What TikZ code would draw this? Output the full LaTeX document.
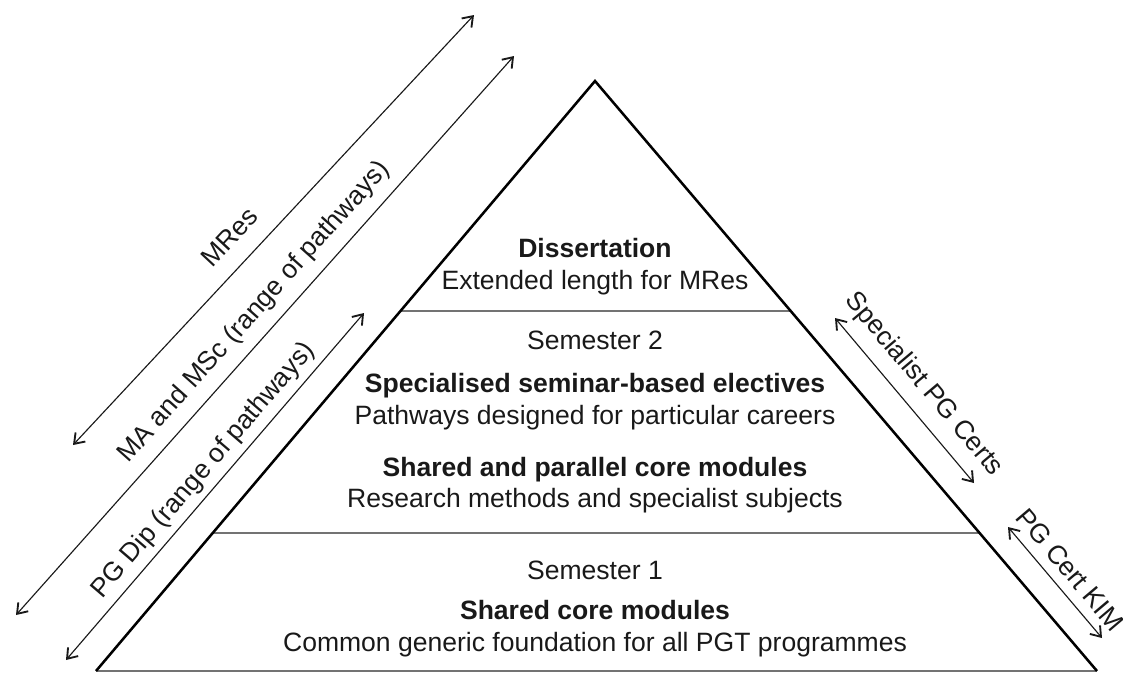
\documentclass[tikz,border=0pt]{standalone}
\usepackage{fontspec}
\setmainfont{Liberation Sans}
\usetikzlibrary{arrows.meta,calc}
\begin{document}
\begin{tikzpicture}[x=0.75pt,y=-0.75pt,
  side/.style={line width=1.9pt, draw=black, line join=miter},
  divider/.style={line width=1.6pt, draw=black!55},
  tip/.tip={Straight Barb[length=7pt,width=10pt,line width=1.4pt]},
  dbl/.style={line width=0.85pt, draw=black!90, tip-tip},
  body/.style={font=\fontsize{19.9pt}{24pt}\selectfont, inner sep=0pt, text=black!90},
  title/.style={body, font=\fontsize{19.9pt}{24pt}\selectfont\bfseries},
  lbl/.style={body, sloped}
]
\useasboundingbox (0,0) rectangle (1123,672);

% pyramid
\coordinate (A) at (595,81);
\coordinate (B) at (96,671);
\coordinate (C) at (1097,671);
\coordinate (d1l) at ($(A)!0.3898!(B)$);
\coordinate (d1r) at ($(A)!0.3898!(C)$);
\coordinate (d2l) at ($(A)!0.7661!(B)$);
\coordinate (d2r) at ($(A)!0.7661!(C)$);
\draw[divider] (d1l) -- (d1r);
\draw[divider] (d2l) -- (d2r);
\draw[divider] (B) -- (C);
\draw[side] (B) -- (A) -- (C);

% texts inside
\node[title, anchor=base] (diss) at (595,257) {Dissertation};
\node[body, anchor=base] (ext) at (595,289) {Extended length for MRes};
\node[body, anchor=base] (sem2) at (595,349) {Semester 2};
\node[title, anchor=base] (spec) at (595,392) {Specialised seminar-based electives};
\node[body, anchor=base] (path) at (595,424) {Pathways designed for particular careers};
\node[title, anchor=base] (shp) at (595,476) {Shared and parallel core modules};
\node[body, anchor=base] (res) at (595,507) {Research methods and specialist subjects};
\node[body, anchor=base] (sem1) at (595,579) {Semester 1};
\node[title, anchor=base] (shc) at (595,619) {Shared core modules};
\node[body, anchor=base] (com) at (595,651) {Common generic foundation for all PGT programmes};

% left arrows
\coordinate (mr1) at (73,445);
\coordinate (mr2) at (474,15);
\coordinate (ma1) at (16,615);
\coordinate (ma2) at (514,56);
\coordinate (pd1) at (66,660);
\coordinate (pd2) at (364,313);
\draw[dbl] (mr1) -- (mr2) node[lbl, pos=0.44, above=12.8pt] (mreslbl) {MRes};
\draw[dbl] (ma1) -- (ma2) node[lbl, pos=0.514, above=8pt] (malbl) {MA and MSc (range of pathways)};
\draw[dbl] (pd1) -- (pd2) node[lbl, pos=0.51, above=4.5pt] (pdlbl) {PG Dip (range of pathways)};

% right arrows
\coordinate (sp1) at (835,318);
\coordinate (sp2) at (974,483);
\coordinate (km1) at (1008,527);
\coordinate (km2) at (1102,638);
\draw[dbl] (sp1) -- (sp2) node[lbl, pos=0.5, above=9pt] (splbl) {Specialist PG Certs};
\draw[dbl] (km1) -- (km2) node[lbl, pos=0.5, above=7.5pt] (kmlbl) {PG Cert KIM};
\end{tikzpicture}
\end{document}
